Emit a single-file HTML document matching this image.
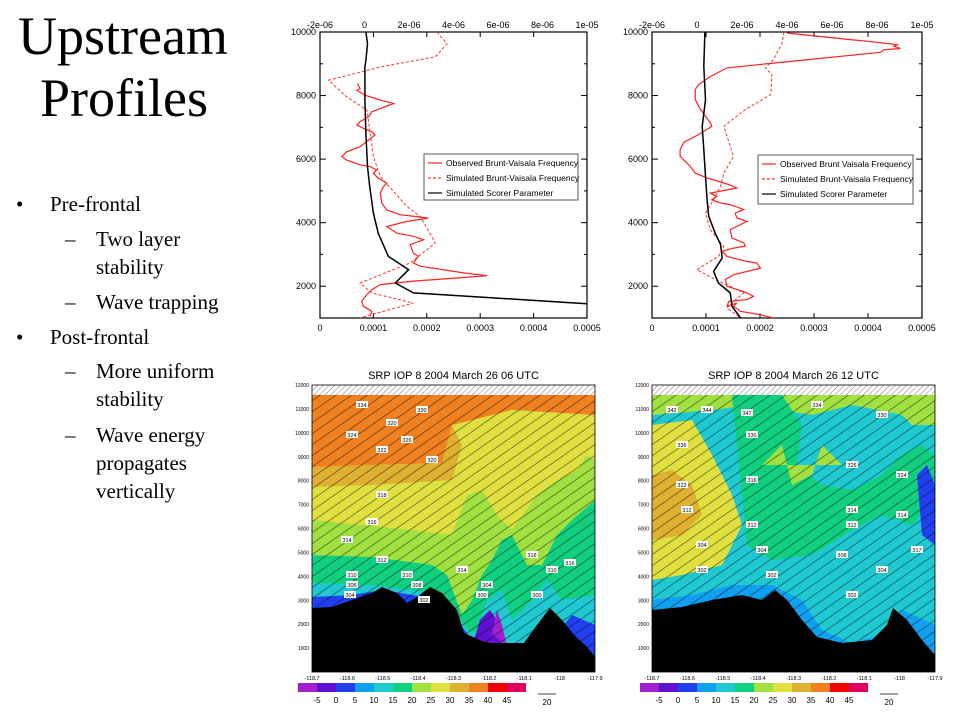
<!DOCTYPE html>
<html><head><meta charset="utf-8">
<style>
body{margin:0;background:#fff;width:960px;height:720px;overflow:hidden;position:relative;font-family:"Liberation Serif",serif}
.t{position:absolute;color:#000}
</style></head><body>
<div class="t" style="left:18px;top:5px;font-size:54px;line-height:62px">Upstream<br><span style="padding-left:22px">Profiles</span></div>
<div style="position:absolute;left:0;top:190px;font-size:21px;line-height:29px">
<div class="t" style="left:16px;top:0">•</div><div class="t" style="left:50px;top:0;white-space:nowrap">Pre-frontal</div>
<div class="t" style="left:65px;top:35px">–</div><div class="t" style="left:96px;top:35px;white-space:nowrap;line-height:28px">Two layer<br>stability</div>
<div class="t" style="left:65px;top:98px">–</div><div class="t" style="left:96px;top:98px;white-space:nowrap">Wave trapping</div>
<div class="t" style="left:16px;top:133px">•</div><div class="t" style="left:50px;top:133px;white-space:nowrap">Post-frontal</div>
<div class="t" style="left:65px;top:167px">–</div><div class="t" style="left:96px;top:167px;white-space:nowrap;line-height:28px">More uniform<br>stability</div>
<div class="t" style="left:65px;top:231px">–</div><div class="t" style="left:96px;top:231px;white-space:nowrap;line-height:28px">Wave energy<br>propagates<br>vertically</div>
</div>
<svg id="s" width="960" height="720" style="position:absolute;left:0;top:0" xmlns="http://www.w3.org/2000/svg" font-family="Liberation Sans, sans-serif">
<defs>
<pattern id="wind" width="9" height="9" patternUnits="userSpaceOnUse" patternTransform="rotate(-35)"><line x1="0" y1="4" x2="9" y2="4" stroke="#000" stroke-width="0.6" opacity="0.7"/></pattern>
<pattern id="hatch" width="4" height="4" patternUnits="userSpaceOnUse" patternTransform="rotate(45)"><line x1="0" y1="0" x2="0" y2="4" stroke="#555" stroke-width="0.8"/></pattern>
</defs>
</svg>
<script>
const NS='http://www.w3.org/2000/svg';
const svg=document.getElementById('s');
function mk(tag,attrs,parent){const e=document.createElementNS(NS,tag);for(const k in attrs)e.setAttribute(k,attrs[k]);(parent||svg).appendChild(e);return e;}

// ---- Profile chart data (values in units of 1e-4, heights in m) ----
const xTicks=[0,0.0001,0.0002,0.0003,0.0004,0.0005];
const xTickLabels=['0','0.0001','0.0002','0.0003','0.0004','0.0005'];
const topTickLabels=['-2e-06','0','2e-06','4e-06','6e-06','8e-06','1e-05'];
const yTicks=[2000,4000,6000,8000,10000];
const leftObsV=[0.70,0.75,0.69,0.84,1.13,1.38,1.25,0.97,0.91,0.75,0.69,0.81,0.97,1.03,0.91,0.75,0.50,0.41,0.50,0.75,0.94,1.06,1.00,1.09,1.25,1.19,1.13,1.16,1.25,1.50,1.81,2.03,1.63,1.25,1.44,1.75,1.94,1.69,1.75,1.84,1.75,1.88,2.69,3.13,2.56,1.75,1.13,0.97,0.88,0.78,0.81,0.97,0.94];
const leftObsH=[8380,8220,8170,8010,7860,7750,7670,7490,7330,7180,7070,6970,6860,6760,6600,6390,6230,6080,5970,5820,5760,5660,5550,5400,5240,5140,4930,4610,4400,4250,4190,4140,4040,3880,3670,3570,3460,3310,3040,2940,2730,2630,2420,2330,2260,2160,2050,1890,1740,1530,1370,1210,1060];
const leftSimV=[2.19,2.38,2.16,1.13,0.16,0.50,0.88,0.94,1.00,1.13,1.63,1.88,2.16,1.69,0.75,0.97,1.75,1.31,0.75];
const leftSimH=[10000,9630,9220,8900,8480,7960,7540,6810,6080,5450,4510,4190,3360,2730,2100,1790,1470,1270,1000];
const leftScV=[0.86,0.89,0.86,0.84,0.84,0.86,0.89,0.93,1.00,1.09,1.28,1.66,1.41,1.75,4.25,5.0];
const leftScH=[10000,9630,9110,8900,7860,6810,5760,5140,4300,3670,2940,2520,2100,1790,1530,1450];
const rightObsV=[2.25,2.01,1.64,1.51,1.57,1.39,1.42,1.76,1.88,1.76,1.39,1.36,1.51,2.01,1.94,1.76,1.39,1.30,1.51,1.73,1.70,1.48,1.45,1.76,1.57,1.54,1.70,1.45,1.27,1.11,1.20,1.08,1.57,1.42,1.02,0.80,0.71,0.52,0.52,0.59,0.86,1.11,1.08,0.90,0.80,0.80,0.86,1.08,1.39,2.25,4.23,4.29,4.60,4.48,4.54,3.98,3.67,2.50];
const rightObsH=[1000,1100,1210,1370,1470,1370,1520,1580,1680,1790,2000,2210,2360,2570,2730,2780,2940,3100,3200,3260,3360,3520,3780,4040,4150,4300,4410,4570,4620,4720,4830,4930,5090,5200,5410,5560,5770,6090,6300,6530,6770,7030,7140,7560,7870,8190,8340,8600,8870,9020,9360,9440,9480,9550,9600,9710,9760,9970];
const rightSimV=[2.44,2.41,2.25,2.10,2.22,2.20,1.73,1.33,1.51,1.33,1.27,1.14,0.99,1.08,1.33,1.23,0.83,1.17,1.70,1.51,1.39,1.64];
const rightSimH=[10000,9650,9130,8870,8660,8030,7560,7030,6090,5560,5140,4720,4300,3780,3250,2940,2520,2210,1790,1520,1310,1000];
const rightScV=[0.98,0.96,0.99,0.93,0.96,0.99,1.02,1.05,1.17,1.27,1.30,1.14,1.23,1.45,1.48,1.64];
const rightScH=[10000,8920,7870,7030,6300,5460,4720,4200,3670,3310,2890,2470,2100,1790,1370,1000];

function profile(name,L,R,T,B,obsV,obsH,simV,simH,scV,scH,obsLabel,leg){
  const g=mk('g',{});
  
  
  const xs=v=>L+(v*1e-4)/0.0005*(R-L);
  const ys=h=>B-(h-1000)/9000*(B-T);
  const clip=mk('clipPath',{id:name+'-clip'},g);
  mk('rect',{x:L,y:T,width:R-L,height:B-T},clip);
  const fr=mk('rect',{x:L,y:T,width:R-L,height:B-T,fill:'#fff',stroke:'#000','stroke-width':1.2},g);
  
  
  xTicks.forEach((v,i)=>{
    const x=L+v/0.0005*(R-L);
    mk('line',{x1:x,y1:B,x2:x,y2:B-5,stroke:'#000'},g);
    mk('line',{x1:x,y1:T,x2:x,y2:T+5,stroke:'#000'},g);
    const t=mk('text',{x:x,y:B+13,'font-size':9,'text-anchor':'middle'},g);t.textContent=xTickLabels[i];
    
    
  });
  topTickLabels.forEach((s,i)=>{
    const x=L+i*(R-L)/6;
    const t=mk('text',{x:x,y:T-4,'font-size':9,'text-anchor':'middle'},g);t.textContent=s;
    
    
  });
  for(let h=1000;h<=10000;h+=1000){
    const y=ys(h);
    mk('line',{x1:L,y1:y,x2:L+(h%2000?3:6),y2:y,stroke:'#000'},g);
    mk('line',{x1:R,y1:y,x2:R-(h%2000?3:6),y2:y,stroke:'#000'},g);
  }
  yTicks.forEach(h=>{
    const t=mk('text',{x:L-4,y:ys(h)+3,'font-size':9,'text-anchor':'end'},g);t.textContent=h;
    
    
  });
  const pts=(V,H)=>V.map((v,i)=>xs(v).toFixed(1)+','+ys(H[i]).toFixed(1)).join(' ');
  const cg=mk('g',{'clip-path':'url(#'+name+'-clip)'},g);
  const a=mk('polyline',{points:pts(simV,simH),fill:'none',stroke:'#ff3030','stroke-width':1,'stroke-dasharray':'3,2'},cg);
  
  
  const b=mk('polyline',{points:pts(obsV,obsH),fill:'none',stroke:'#ff2020','stroke-width':1.2},cg);
  
  
  const c=mk('polyline',{points:pts(scV,scH),fill:'none',stroke:'#000','stroke-width':1.5},cg);
  
  
  const lg=mk('g',{},g);
  
  
  mk('rect',{x:leg[0],y:leg[1],width:leg[2],height:leg[3],fill:'#fff',stroke:'#555'},lg);
  const items=[[obsLabel,'#ff2020',''],['Simulated Brunt-Vaisala Frequency','#ff3030','3,2'],['Simulated Scorer Parameter','#000','']];
  items.forEach((it,i)=>{
    const y=leg[1]+9+i*15;
    mk('line',{x1:leg[0]+4,y1:y,x2:leg[0]+18,y2:y,stroke:it[1],'stroke-width':1.2,'stroke-dasharray':it[2]||'none'},lg);
    const t=mk('text',{x:leg[0]+22,y:y+3,'font-size':8.5},lg);t.textContent=it[0];
    
    
  });
}
profile('left-profile-chart',320,587,32,318,leftObsV,leftObsH,leftSimV,leftSimH,leftScV,leftScH,'Observed Brunt-Vaisala Frequency',[424,154,154,46]);
profile('right-profile-chart',652,922,32,318,rightObsV,rightObsH,rightSimV,rightSimH,rightScV,rightScH,'Observed Brunt Vaisala Frequency',[758,155,155,49]);

// ---- Cross sections ----
const cbColors=['#a020d0','#6010d0','#2040f0','#10a0f0','#20c8d0','#10d080','#a0e040','#e0e040','#e0b030','#f08020','#f00000','#e00060'];
const cbLabels=['-5','0','5','10','15','20','25','30','35','40','45'];
const yLabs=[1000,2000,3000,4000,5000,6000,7000,8000,9000,10000,11000,12000];
const xLabs=['-118.7','-118.6','-118.5','-118.4','-118.3','-118.2','-118.1','-118','-117.9'];
function section(name,ox,oy,title,layers,terrain,labels,cbx){
  const g=mk('g',{transform:`translate(${ox},${oy})`});
  
  
  const W=283,H=287;
  const tt=mk('text',{x:W/2,y:-6,'font-size':11,'text-anchor':'middle'},g);tt.textContent=title;
  
  
  mk('rect',{x:0,y:0,width:W,height:H,fill:layers[0][1]},g);
  layers.slice(1).forEach(l=>mk('polygon',{points:l[0],fill:l[1]},g));
  mk('rect',{x:0,y:0,width:W,height:H,fill:'url(#wind)'},g);
  mk('rect',{x:0,y:0,width:W,height:10,fill:'#fff'},g);
  mk('rect',{x:0,y:0,width:W,height:10,fill:'url(#hatch)'},g);
  const tr=mk('polygon',{points:terrain,fill:'#000'},g);
  
  
  labels.forEach(l=>{
    mk('rect',{x:l[0]-6,y:l[1]-4,width:12,height:7,fill:'#fff'},g);
    const t=mk('text',{x:l[0],y:l[1]+2,'font-size':5.5,'text-anchor':'middle'},g);t.textContent=l[2];
  });
  mk('rect',{x:0,y:0,width:W,height:H,fill:'none',stroke:'#000','stroke-width':0.8},g);
  yLabs.forEach(h=>{const t=mk('text',{x:-3,y:H-h/12000*H+2,'font-size':5,'text-anchor':'end'},g);t.textContent=h;});
  xLabs.forEach((s,i)=>{const t=mk('text',{x:i*W/8,y:H+8,'font-size':5.5,'text-anchor':'middle'},g);t.textContent=s;});
  const cb=mk('g',{},svg);
  
  
  const cw=19;
  cbColors.forEach((c,i)=>mk('rect',{x:cbx+i*cw,y:683,width:cw,height:9,fill:c},cb));
  cbLabels.forEach((s,i)=>{const t=mk('text',{x:cbx+(i+1)*cw,y:703,'font-size':8,'text-anchor':'middle'},cb);t.textContent=s;});
  mk('line',{x1:cbx+240,y1:694,x2:cbx+258,y2:694,stroke:'#000','stroke-width':0.7},cb);
  const t=mk('text',{x:cbx+249,y:705,'font-size':8,'text-anchor':'middle'},cb);t.textContent='20';
}
section('left-cross-section',312,385,'SRP IOP 8 2004 March 26 06 UTC',[
 [null,'#e0e040'],
 ['0,10 283,10 283,30 200,25 140,40 130,78 60,80 0,82','#f08020'],
 ['0,82 60,80 130,78 140,40 150,60 140,95 60,100 0,102','#e0b030'],
 ['0,135 100,145 140,150 155,110 170,105 185,130 200,145 225,110 245,95 265,85 275,70 283,75 283,287 0,287','#a0e040'],
 ['0,170 60,172 120,180 135,190 150,230 160,215 170,190 180,175 190,155 200,150 215,180 230,180 245,150 260,135 283,115 283,287 0,287','#10d080'],
 ['0,198 60,200 100,205 130,210 160,250 165,245 175,215 190,205 200,235 220,215 235,195 250,215 283,210 283,287 0,287','#20c8d0'],
 ['0,212 40,210 70,205 100,210 130,215 160,255 175,260 220,262 245,248 260,230 283,240 283,287 0,287','#2040f0'],
 ['162,255 168,235 178,225 188,240 190,262','#6010d0'],
 ['180,248 185,225 190,240 195,262','#a020d0']
],'0,223 20,222 40,215 60,208 70,202 85,208 95,218 105,212 118,202 130,208 145,225 152,248 170,256 178,258 212,258 225,240 238,223 250,235 262,250 275,262 283,272 283,287 0,287',
[[50,20,'334'],[80,38,'320'],[110,25,'330'],[40,50,'324'],[70,65,'322'],[95,55,'326'],[120,75,'320'],[70,110,'318'],[60,137,'316'],[35,155,'314'],[70,175,'312'],[40,190,'310'],[95,190,'310'],[40,200,'306'],[105,200,'308'],[38,210,'304'],[112,215,'302'],[150,185,'314'],[220,170,'318'],[240,185,'310'],[258,178,'316'],[175,200,'304'],[170,210,'300'],[225,210,'300']],298);
section('right-cross-section',652,385,'SRP IOP 8 2004 March 26 12 UTC',[
 [null,'#20c8d0'],
 ['0,10 283,10 283,40 260,40 250,30 200,20 160,30 130,25 100,20 60,25 0,30','#a0e040'],
 ['0,40 40,35 60,70 80,110 90,140 70,180 30,190 0,195','#e0e040'],
 ['0,90 20,85 40,100 50,130 30,150 0,155','#e0b030'],
 ['80,10 130,10 150,40 145,80 170,100 200,105 230,90 250,70 270,60 283,70 283,110 260,140 230,130 200,145 160,170 120,175 95,160','#10d080'],
 ['110,80 130,60 140,100 160,90 170,60 190,80','#a0e040'],
 ['265,90 275,80 283,100 283,160 270,150','#2040f0'],
 ['0,215 40,210 80,200 120,200 150,215 170,245 200,258 230,250 250,225 283,240 283,287 0,287','#10a0f0']
],'0,225 30,222 60,215 90,210 110,215 123,205 135,215 150,235 165,252 190,258 220,255 235,240 241,223 255,235 270,255 283,270 283,287 0,287',
[[20,25,'342'],[55,25,'344'],[95,28,'347'],[165,20,'334'],[230,30,'330'],[30,60,'336'],[100,50,'330'],[200,80,'326'],[250,90,'324'],[30,100,'322'],[100,95,'316'],[200,125,'314'],[250,130,'314'],[35,125,'312'],[100,140,'312'],[200,140,'312'],[265,165,'317'],[50,160,'304'],[110,165,'304'],[190,170,'308'],[50,185,'302'],[120,190,'302'],[230,185,'304'],[200,210,'302']],640);
</script>
</body></html>
